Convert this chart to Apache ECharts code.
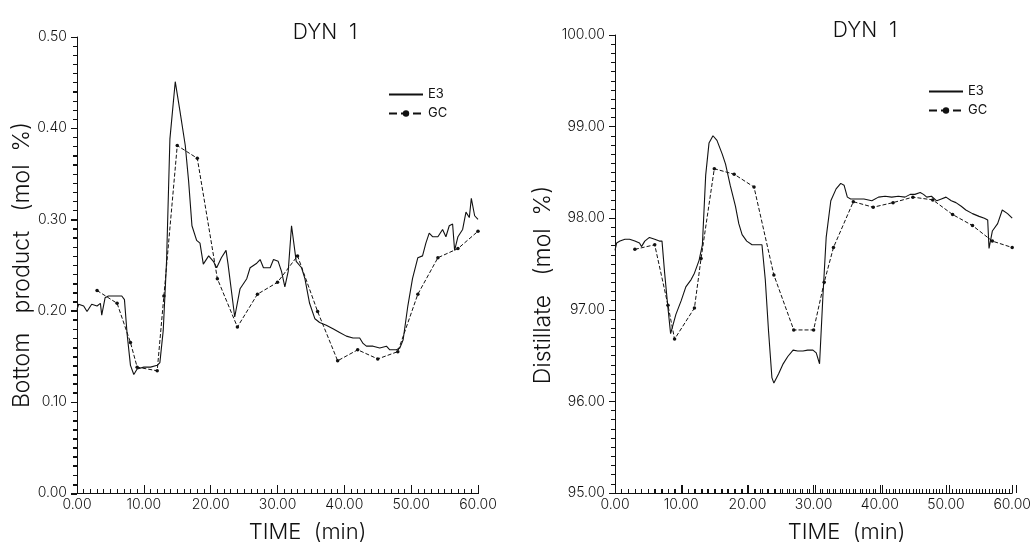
<!DOCTYPE html>
<html><head><meta charset="utf-8">
<script src="https://cdn.jsdelivr.net/npm/echarts@6/dist/echarts.min.js"></script>
<style>html,body{margin:0;padding:0;background:#fff}#c{width:1034px;height:548px}</style>
</head><body><div id="c"></div>
<script>
// ---- Left chart: Bottom product ----
const e3LeftT = [0,0.25,1,1.5,2.2,3,3.5,3.7,4.2,4.7,5.7,6.7,7.1,7.5,8.0,8.5,9.0,10,11,12,12.4,12.9,13.4,13.9,14.7,15.4,16.2,16.7,17.2,17.9,18.4,18.9,19.7,20.4,20.9,21.6,22.3,22.6,23.6,24.4,25.4,25.9,26.9,27.4,27.9,28.9,29.4,30.1,30.6,31.1,31.6,32.1,32.3,32.8,33.6,34.1,34.8,35.6,36.3,37.3,38.3,39.3,40.3,41.3,42.3,42.8,43.3,44.3,45.3,46.3,46.8,47.8,48.3,48.8,49.5,50.2,51.0,51.7,52.2,52.7,53.2,54.0,54.7,55.2,55.7,56.2,56.5,57.0,57.7,58.2,58.7,59.0,59.5,60];
const e3LeftV = [0.201,0.207,0.205,0.199,0.207,0.205,0.208,0.195,0.214,0.216,0.216,0.216,0.212,0.174,0.140,0.130,0.136,0.138,0.138,0.140,0.143,0.178,0.254,0.388,0.451,0.419,0.381,0.342,0.293,0.277,0.274,0.251,0.260,0.254,0.247,0.258,0.266,0.251,0.193,0.224,0.235,0.247,0.252,0.256,0.247,0.247,0.256,0.254,0.243,0.226,0.243,0.293,0.293,0.254,0.247,0.235,0.208,0.191,0.187,0.184,0.180,0.176,0.172,0.170,0.170,0.164,0.161,0.161,0.159,0.161,0.157,0.157,0.159,0.168,0.205,0.235,0.258,0.260,0.274,0.285,0.281,0.281,0.289,0.281,0.293,0.295,0.266,0.281,0.289,0.308,0.302,0.323,0.304,0.300];
const gcLeftT = [3,6,8,9,12,13,15,18,21,24,27,30,33,36,39,42,45,48,51,54,57,60];
const gcLeftV = [0.222,0.208,0.165,0.138,0.134,0.216,0.381,0.367,0.235,0.182,0.218,0.231,0.260,0.199,0.145,0.157,0.147,0.155,0.218,0.258,0.268,0.287];

// ---- Right chart: Distillate ----
const e3RightT = [0,0.25,0.75,1.5,2.2,3.0,3.7,4.0,4.5,5.2,6.0,6.7,7.1,7.5,8.0,8.4,8.7,9.2,10.0,10.7,11.5,12.0,12.7,13.2,13.7,14.2,14.8,15.4,16.2,16.7,17.4,18.2,18.7,19.2,19.9,20.7,21.4,22.2,22.7,23.2,23.7,24.0,24.7,25.4,26.1,26.9,27.6,28.4,29.1,29.9,30.4,30.9,31.4,31.9,32.6,33.4,34.1,34.6,35.1,35.6,36.6,37.6,38.8,39.8,40.8,41.8,42.8,43.8,44.6,45.3,46.1,46.6,47.1,47.8,48.6,49.3,50.0,50.8,51.5,52.3,53.0,54.0,55.0,55.8,56.3,56.5,57.0,57.8,58.5,59.3,60];
const e3RightV = [97.65,97.73,97.75,97.77,97.77,97.75,97.73,97.69,97.75,97.79,97.77,97.75,97.75,97.40,97.02,96.74,96.76,96.95,97.10,97.25,97.33,97.40,97.54,97.71,98.47,98.82,98.90,98.85,98.70,98.59,98.36,98.13,97.94,97.82,97.75,97.71,97.71,97.71,97.33,96.76,96.26,96.20,96.30,96.41,96.49,96.56,96.55,96.55,96.56,96.56,96.53,96.41,97.14,97.79,98.19,98.32,98.38,98.36,98.23,98.21,98.21,98.21,98.19,98.23,98.24,98.23,98.24,98.23,98.26,98.26,98.28,98.26,98.23,98.24,98.19,98.21,98.23,98.19,98.17,98.13,98.09,98.05,98.02,98.00,97.98,97.67,97.86,97.94,98.09,98.05,98.00];
const gcRightT = [3,6,8,9,12,13,15,18,21,24,27,30,31.6,33,36,39,42,45,48,51,54,57,60];
const gcRightV = [97.66,97.71,97.05,96.68,97.02,97.56,98.54,98.48,98.34,97.38,96.78,96.78,97.30,97.68,98.18,98.12,98.17,98.23,98.20,98.04,97.92,97.75,97.68];

const xTicks = [0,10,20,30,40,50,60];

const zip = (a,b) => a.map((t,i)=>[t,b[i]]);
const FONT = 'Inter, Roboto, sans-serif';
const ink = '#111';

// main plot boxes
const boxes = [
  {left:77, top:37, width:401, height:457, ymin:0, ymax:0.5, yint:0.1},
  {left:615, top:35, width:401, height:458, ymin:95, ymax:100, yint:1}
];

function xAxisDef(gi, padLeft){
  return {
    type:'value', gridIndex:gi, min:xTicks[0], max:xTicks[xTicks.length-1], interval:10,
    name:'TIME  (min)', nameLocation:'middle', nameGap:28,
    nameTextStyle:{color:ink, fontSize:22, fontFamily:FONT, fontWeight:300, padding:[0,0,0,padLeft]},
    axisLine:{show:true, onZero:false, lineStyle:{color:ink}},
    axisTick:{show:true, inside:true, length:8, lineStyle:{color:ink, width:1}},
    minorTick:{show:true, splitNumber:10, length:4, lineStyle:{color:ink, width:1}},
    splitLine:{show:false},
    axisLabel:{color:ink, fontSize:14, fontFamily:FONT, fontWeight:300, margin:5, formatter:v=>v.toFixed(2)}
  };
}
function yAxisDef(gi, b, name, gap, padRight){
  return {
    type:'value', gridIndex:gi, min:b.ymin, max:b.ymax, interval:b.yint,
    name, nameLocation:'middle', nameRotate:90, nameGap:gap,
    nameTextStyle:{color:ink, fontSize:23, fontFamily:FONT, fontWeight:300, padding:[0,padRight,0,0]},
    axisLine:{show:true, onZero:false, lineStyle:{color:ink}},
    axisTick:{show:true, inside:false, length:6, lineStyle:{color:ink, width:1}},
    minorTick:{show:true, splitNumber:10, length:4, lineStyle:{color:ink, width:1}},
    splitLine:{show:false},
    axisLabel:{color:ink, fontSize:14, fontFamily:FONT, fontWeight:300, margin:10, formatter:v=>v.toFixed(2)}
  };
}

// tick strips: thin grids whose split lines act as tick marks
const grids = [
  {left:boxes[0].left, top:boxes[0].top, width:boxes[0].width, height:boxes[0].height},
  {left:boxes[1].left, top:boxes[1].top, width:boxes[1].width, height:boxes[1].height}
];
const xAxes = [xAxisDef(0,60), xAxisDef(1,66)];
const yAxes = [
  yAxisDef(0, boxes[0], 'Bottom   product   (mol  %)', 43, 0),
  yAxisDef(1, boxes[1], 'Distillate   (mol  %)', 60, 42)
];
const hidden = {show:true, axisLine:{show:false}, axisTick:{show:false}, axisLabel:{show:false}, splitLine:{show:false}};
const tickLine = {show:true, lineStyle:{color:ink, width:1}};
function addStrip(grid, xa, ya){
  const gi = grids.length;
  grids.push(grid);
  xAxes.push(Object.assign({type:'value', gridIndex:gi}, hidden, xa));
  yAxes.push(Object.assign({type:'value', gridIndex:gi}, hidden, ya));
}
boxes.forEach(b => {
  const bottom = b.top + b.height;
  const xr = {min:xTicks[0], max:xTicks[xTicks.length-1], interval:10};
  const yr = {min:b.ymin, max:b.ymax, interval:b.yint};
  // x major ticks (inside, 8px)
  addStrip({left:b.left, top:bottom-8, width:b.width, height:8},
    Object.assign({}, xr, {splitLine:tickLine}), {min:0, max:1});
  // x minor ticks (inside, 4px)
  addStrip({left:b.left, top:bottom-4, width:b.width, height:4},
    Object.assign({}, xr, {splitLine:tickLine, minorTick:{show:false, splitNumber:10}, minorSplitLine:tickLine}), {min:0, max:1});
  // y major ticks (outside, 6px)
  addStrip({left:b.left-6, top:b.top, width:6, height:b.height},
    {min:0, max:1}, Object.assign({}, yr, {splitLine:tickLine}));
  // y minor ticks (outside, 4px)
  addStrip({left:b.left-4, top:b.top, width:4, height:b.height},
    {min:0, max:1}, Object.assign({}, yr, {splitLine:tickLine, minorTick:{show:false, splitNumber:10}, minorSplitLine:tickLine}));
});

function e3Series(name, xi, data){
  return {name, type:'line', xAxisIndex:xi, yAxisIndex:xi, data, showSymbol:false, symbol:'none',
    lineStyle:{color:ink, width:1.1}, itemStyle:{color:ink}};
}
function gcSeries(name, xi, data){
  return {name, type:'line', xAxisIndex:xi, yAxisIndex:xi, data, symbol:'circle', symbolSize:3.5,
    lineStyle:{color:ink, width:1, type:'dashed'}, itemStyle:{color:ink}};
}
const legendData = [{name:'E3', itemStyle:{opacity:0}}, {name:'GC'}];
const titleStyle = {color:ink, fontSize:21, fontFamily:FONT, fontWeight:300};

const chart = echarts.init(document.getElementById('c'));
chart.setOption({
  animation:false,
  title:[
    {text:'DYN  1', left:320, top:17, textAlign:'center', textStyle:titleStyle},
    {text:'DYN  1', left:860, top:15, textAlign:'center', textStyle:titleStyle}
  ],
  grid:grids,
  xAxis:xAxes,
  yAxis:yAxes,
  legend:[
    {orient:'vertical', left:383, top:83, itemWidth:34, itemHeight:8, itemGap:6,
     textStyle:{color:ink, fontSize:13, fontFamily:FONT}, data:legendData},
    {orient:'vertical', left:923, top:80, itemWidth:34, itemHeight:8, itemGap:6,
     textStyle:{color:ink, fontSize:13, fontFamily:FONT}, data:legendData}
  ],
  series:[
    e3Series('E3',0,zip(e3LeftT,e3LeftV)),
    gcSeries('GC',0,zip(gcLeftT,gcLeftV)),
    e3Series('E3',1,zip(e3RightT,e3RightV)),
    gcSeries('GC',1,zip(gcRightT,gcRightV))
  ]
});
</script></body></html>
